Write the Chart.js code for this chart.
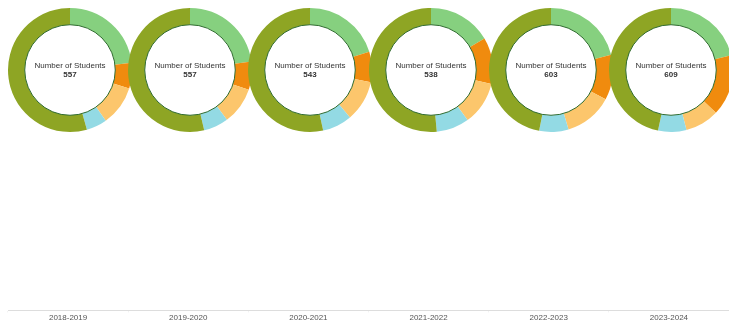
<!DOCTYPE html>
<html>
<head>
<meta charset="utf-8">
<script src="https://cdn.jsdelivr.net/npm/chart.js@4/dist/chart.umd.min.js"></script>
<style>
  html, body { margin: 0; padding: 0; background: #fff; overflow: hidden; }
  #wrap { position: relative; width: 729px; height: 324px; overflow: hidden; }
  #axis { position: absolute; left: 0; top: 0; }
  .pie { position: absolute; }
</style>
</head>
<body>
<div id="wrap">
  <canvas id="axis" width="729" height="324"></canvas>
</div>
<script>
// school years along the bottom
const years = ["2018-2019", "2019-2020", "2020-2021", "2021-2022", "2022-2023", "2023-2024"];
const totals = [557, 557, 543, 538, 603, 609];

// slices, clockwise from 12 o'clock
const groupA = [129, 127, 110, 89, 127, 129]; // light green
const groupB = [37, 41, 43, 65, 71, 97];      // orange
const groupC = [58, 54, 58, 61, 76, 54];      // light orange
const groupD = [30, 36, 42, 46, 46, 45];      // light blue
const groupE = [303, 299, 290, 277, 283, 284]; // olive

const sliceColors = ["#86d07f", "#f08b0e", "#fcc66c", "#93dae4", "#8ea524"];
const PIE = 126;

const axisChart = new Chart(document.getElementById("axis"), {
  type: "bar",
  data: { labels: years, datasets: [] },
  options: {
    responsive: false,
    animation: false,
    layout: { padding: { left: 8, right: 0, top: 0, bottom: 0 } },
    plugins: { legend: { display: false }, tooltip: { enabled: false } },
    scales: {
      y: { display: false },
      x: {
        border: { color: "#dddddd" },
        grid: { offset: true, drawOnChartArea: false, color: "#f2f2f2", tickLength: 2 },
        ticks: { color: "#555", font: { family: "Liberation Sans, Arial", size: 8 }, padding: 1 }
      }
    }
  }
});

// thin dark ring on the inner edge + the centre caption
const centerText = {
  id: "centerText",
  afterDraw(chart, args, opts) {
    const arc = chart.getDatasetMeta(0).data[0];
    if (!arc) return;
    const { x, y, innerRadius } = arc;
    const ctx = chart.ctx;
    ctx.save();
    ctx.beginPath();
    ctx.arc(x, y, innerRadius, 0, Math.PI * 2);
    ctx.strokeStyle = "#2f6b2f";
    ctx.lineWidth = 1;
    ctx.stroke();
    ctx.fillStyle = "#333";
    ctx.textAlign = "center";
    ctx.textBaseline = "middle";
    ctx.font = "8px Liberation Sans, Arial";
    ctx.fillText("Number of Students", x, y - 4);
    ctx.font = "bold 8px Liberation Sans, Arial";
    ctx.fillText(String(opts.total), x, y + 5);
    ctx.restore();
  }
};

const wrap = document.getElementById("wrap");
const xScale = axisChart.scales.x;

years.forEach((yr, i) => {
  const cv = document.createElement("canvas");
  cv.className = "pie";
  cv.width = PIE;
  cv.height = PIE;
  cv.style.left = (xScale.getPixelForValue(i) + 2 - PIE / 2) + "px";
  cv.style.top = (70 - PIE / 2) + "px";
  wrap.appendChild(cv);

  new Chart(cv, {
    type: "doughnut",
    data: {
      labels: ["A", "B", "C", "D", "E"],
      datasets: [{
        data: [groupA[i], groupB[i], groupC[i], groupD[i], groupE[i]],
        backgroundColor: sliceColors,
        borderWidth: 0
      }]
    },
    options: {
      responsive: false,
      animation: false,
      cutout: "73%",
      layout: { padding: 1 },
      plugins: {
        legend: { display: false },
        tooltip: { enabled: false },
        centerText: { total: totals[i] }
      }
    },
    plugins: [centerText]
  });
});
</script>
</body>
</html>
